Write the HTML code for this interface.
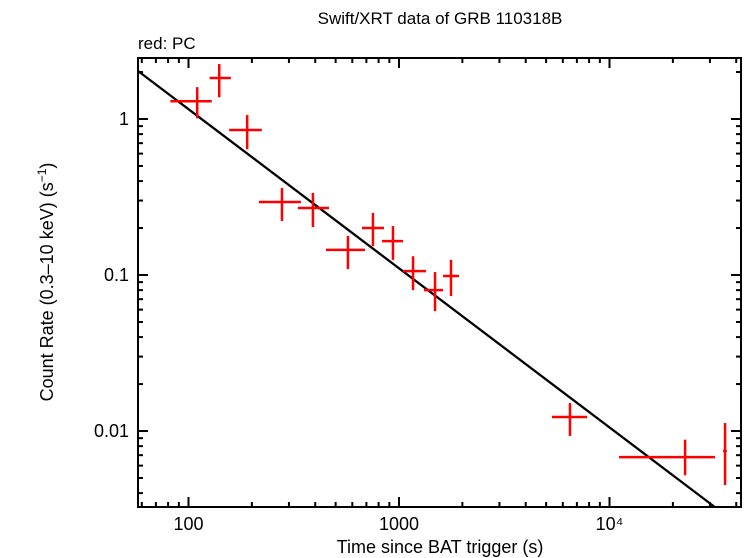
<!DOCTYPE html>
<html><head><meta charset="utf-8"><style>
html,body{margin:0;padding:0;background:#fff}
svg{display:block;font-family:"Liberation Sans",sans-serif}
</style></head><body>
<svg id="chart" width="746" height="558" viewBox="0 0 746 558" xmlns="http://www.w3.org/2000/svg">
<text x="440" y="24" font-size="17" text-anchor="middle">Swift/XRT data of GRB 110318B</text>
<text x="138" y="49" font-size="17">red: PC</text>
<text x="440" y="553" font-size="18" text-anchor="middle">Time since BAT trigger (s)</text>
<text transform="translate(53,282) rotate(-90)" font-size="18" text-anchor="middle">Count Rate (0.3–10 keV) (s<tspan font-size="12" dy="-7">−1</tspan><tspan dy="7">)</tspan></text>
<g id="marks"></g>
<rect x="138" y="58" width="603" height="449" fill="none" stroke="#000" stroke-width="2"/>
<g id="axes"></g>
</svg>
<script>
const times=[110,140,190,278,390,572,752,936,1166,1483,1766,6490,22860,35400];
const timeLo=[82,126,156,216,331,450,667,830,1045,1315,1619,5330,11100,34600];
const timeHi=[129,159,223,342,465,689,849,1045,1343,1619,1928,7820,31700,36100];
const rates=[1.30,1.83,0.85,0.294,0.269,0.145,0.200,0.165,0.106,0.080,0.0986,0.0123,0.0068,0.00745];
const rateLo=[1.01,1.38,0.64,0.222,0.203,0.109,0.153,0.125,0.080,0.0588,0.0733,0.0093,0.0052,0.0045];
const rateHi=[1.60,2.25,1.06,0.361,0.336,0.178,0.250,0.206,0.132,0.1045,0.125,0.0151,0.0088,0.01125];
const fitNorm=1.156, fitIndex=1.02;
const xTicks=[100,1000,10000];
const xTickLabels=["100","1000","10⁴"];
const yTicks=[1,0.1,0.01];
const yTickLabels=["1","0.1","0.01"];

const L=138,R=741,T=58,B=507;
const xmin=1.7601,xmax=4.6247,ymin=-2.487,ymax=0.391;
function X(v){return L+(Math.log10(v)-xmin)/(xmax-xmin)*(R-L);}
function Y(v){return B-(Math.log10(v)-ymin)/(ymax-ymin)*(B-T);}
const NS="http://www.w3.org/2000/svg";
const marks=document.getElementById('marks'), axes=document.getElementById('axes');
function line(p,x1,y1,x2,y2,c,w){const l=document.createElementNS(NS,'line');
l.setAttribute('x1',x1);l.setAttribute('y1',y1);l.setAttribute('x2',x2);l.setAttribute('y2',y2);
l.setAttribute('stroke',c);l.setAttribute('stroke-width',w);p.appendChild(l);return l;}

const x0=Math.pow(10,xmin);
let tEnd=Math.pow(10,xmax);
const tBottom=Math.pow(fitNorm/Math.pow(10,ymin),1/fitIndex)*100;
if(tBottom<tEnd) tEnd=tBottom;
const fitY=t=>fitNorm*Math.pow(t/100,-fitIndex);
const fl=line(marks,X(x0),Y(fitY(x0)),X(tEnd),Y(fitY(tEnd)),'#000',2.3);



for(let i=0;i<times.length;i++){
  const g=document.createElementNS(NS,'g');
  
  
  line(g,X(timeLo[i]),Y(rates[i]),X(timeHi[i]),Y(rates[i]),'#f00',2.5);
  line(g,X(times[i]),Y(rateLo[i]),X(times[i]),Y(rateHi[i]),'#f00',2.5);
  marks.appendChild(g);
}

for(let d=1;d<=4;d++){for(let m=1;m<=9;m++){const v=m*Math.pow(10,d);const x=X(v);
  if(x<L||x>R)continue;const len=m===1?10:5;
  line(axes,x,B,x,B-len,'#000',2);line(axes,x,T,x,T+len,'#000',2);}}
xTicks.forEach((v,i)=>{const t=document.createElementNS(NS,'text');
  t.setAttribute('x',X(v));t.setAttribute('y',B+23);t.setAttribute('font-size','18');t.setAttribute('text-anchor','middle');
  t.textContent=xTickLabels[i];
  
  
  axes.appendChild(t);});
for(let d=-3;d<=0;d++){for(let m=1;m<=9;m++){const v=m*Math.pow(10,d);const y=Y(v);
  if(y<T||y>B)continue;const len=m===1?10:5;
  line(axes,L,y,L+len,y,'#000',2);line(axes,R,y,R-len,y,'#000',2);}}
yTicks.forEach((v,i)=>{const t=document.createElementNS(NS,'text');
  t.setAttribute('x',L-9);t.setAttribute('y',Y(v)+6);t.setAttribute('font-size','18');t.setAttribute('text-anchor','end');
  t.textContent=yTickLabels[i];
  
  
  axes.appendChild(t);});
</script>
</body></html>
